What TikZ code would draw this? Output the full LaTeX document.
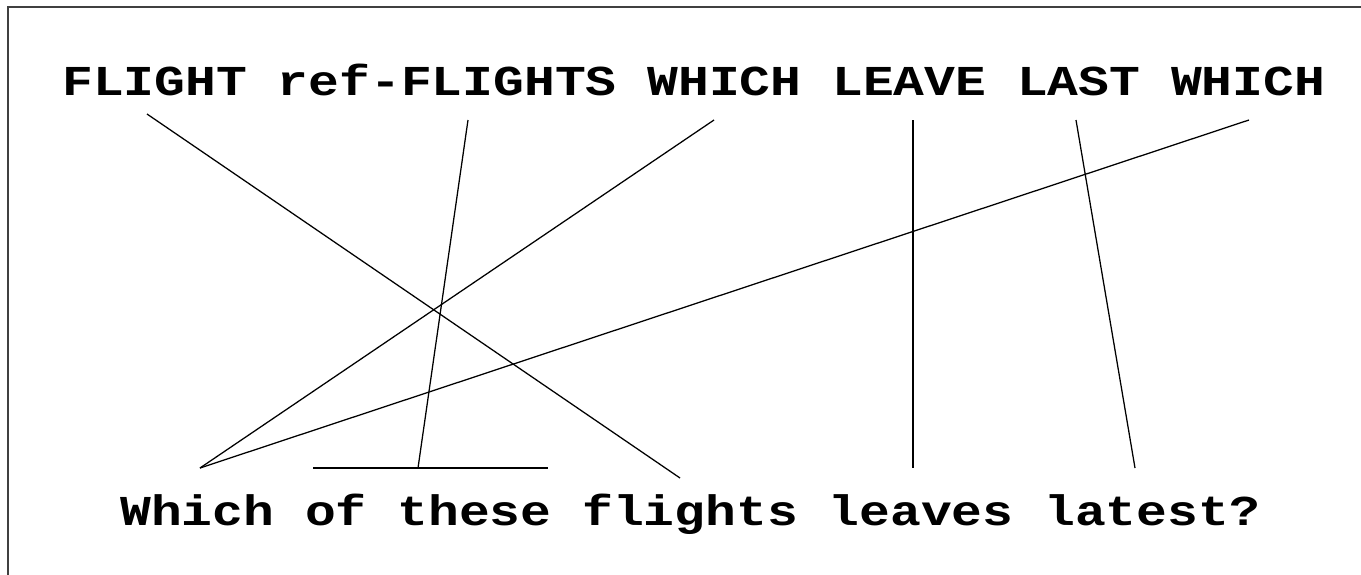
\documentclass[tikz,border=0pt]{standalone}
\usepackage{fontspec}
\newfontfamily\courfont{Liberation Mono}
\begin{document}
\begin{tikzpicture}[x=0.75pt,y=-0.75pt,
  sent/.style={anchor=base west,inner sep=0pt,transform shape,yscale=0.83,font=\courfont\bfseries\fontsize{38.5}{40}\selectfont},
  link/.style={line width=0.95pt,black},
  frame/.style={line width=0.8pt,black!75}]
\useasboundingbox (0,0) rectangle (1361,575);
\draw[frame] (8,575) -- (8,7) -- (1361,7);
\node[sent] (top) at (62,95) {FLIGHT ref-FLIGHTS WHICH LEAVE LAST WHICH};
\node[sent] (bot) at (120,525) {Which of these flights leaves latest?};
% upper ends
\coordinate (tFlight) at (147,114);
\coordinate (tRef) at (468,120);
\coordinate (tWhichA) at (714,120);
\coordinate (tLeave) at (913,120);
\coordinate (tLast) at (1076,120);
\coordinate (tWhichB) at (1249,120);
% lower ends
\coordinate (bWhich) at (200,468);
\coordinate (bOfL) at (313,468);
\coordinate (bOfR) at (548,468);
\coordinate (bOf) at (418,468);
\coordinate (bFlights) at (680,478);
\coordinate (bLeaves) at (913,468);
\coordinate (bLatest) at (1135,468);
\draw[link] (tFlight) -- (bFlights);
\draw[link] (tRef) -- (bOf);
\draw[link] (bOfL) -- (bOfR);
\draw[link] (tWhichA) -- (bWhich);
\draw[link] (tLeave) -- (bLeaves);
\draw[link] (tLast) -- (bLatest);
\draw[link] (tWhichB) -- (bWhich);
\end{tikzpicture}
\end{document}
